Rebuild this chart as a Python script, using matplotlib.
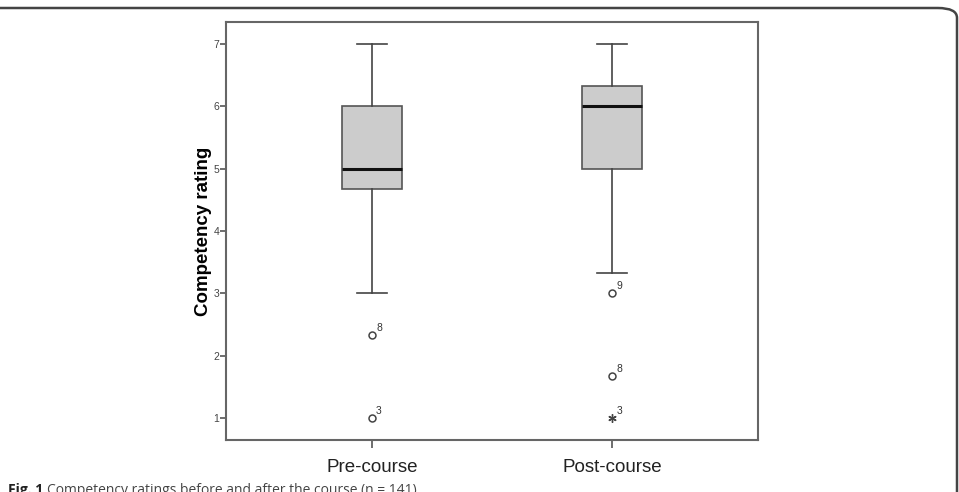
import matplotlib.pyplot as plt
from matplotlib.patches import FancyBboxPatch

plt.rcParams['font.family'] = ['Liberation Sans', 'DejaVu Sans']

# values
groups = ['Pre-course', 'Post-course']
whislo = [3.0, 3.33]
q1 = [4.67, 5.0]
med = [5.0, 6.0]
q3 = [6.0, 6.33]
whishi = [7.0, 7.0]
outliers = [[2.33, 1.0], [3.0, 1.67, 1.0]]
outlier_ids = [['8', '3'], ['9', '8', '3']]
outlier_kind = [['o', 'o'], ['o', 'o', '*']]
yticks = [1, 2, 3, 4, 5, 6, 7]

fig = plt.figure(figsize=(9.59, 4.92), dpi=100)
ax = fig.add_axes([226 / 959, 52 / 492, 532 / 959, 418 / 492])

stats = []
for i in range(len(groups)):
    stats.append(dict(med=med[i], q1=q1[i], q3=q3[i], whislo=whislo[i],
                      whishi=whishi[i], fliers=[], label=groups[i]))

pos = [1, 2]
ax.bxp(stats, positions=pos, widths=0.25, patch_artist=True, showfliers=False,
       boxprops=dict(facecolor='#cccccc', edgecolor='#555555', linewidth=1.2),
       medianprops=dict(color='#111111', linewidth=2.2),
       whiskerprops=dict(color='#444444', linewidth=1.2),
       capprops=dict(color='#444444', linewidth=1.2), capwidths=0.125)

for i, p in enumerate(pos):
    for v, lab, kind in zip(outliers[i], outlier_ids[i], outlier_kind[i]):
        if kind == 'o':
            ax.plot(p, v, 'o', mfc='white', mec='#444444', ms=5, mew=1.1)
        else:
            ax.plot(p, v, marker=(6, 2, 0), color='#444444', ms=6, mew=1.0)
        ax.annotate(lab, (p, v), xytext=(3, 3), textcoords='offset points',
                    fontsize=7.5, color='#333333')

ax.set_xlim(0.392, 2.608)
ax.set_ylim(0.65, 7.35)
ax.set_yticks(yticks)
ax.set_xticks(pos)
ax.set_xticklabels(groups, fontsize=13.5, color='#222222')
ax.tick_params(axis='y', labelsize=7.5, length=4, width=1.2, color='#555555',
               labelcolor='#444444', pad=1)
ax.tick_params(axis='x', length=6, width=1.2, color='#555555', pad=8)
for s in ax.spines.values():
    s.set_color('#666666')
    s.set_linewidth(1.5)
ax.set_ylabel('Competency rating', fontsize=13.5, fontweight='bold', labelpad=1)

# outer rounded frame of the figure panel
frame = FancyBboxPatch((-20 / 959, -40 / 492), 977 / 959, 524 / 492,
                       boxstyle='round,pad=0,rounding_size=0.02',
                       transform=fig.transFigure, fill=False,
                       edgecolor='#444444', linewidth=1.8, clip_on=False)
fig.add_artist(frame)

fig.text(8 / 959, -2 / 492, 'Fig. 1', fontsize=10, fontweight='bold',
         family=['Open Sans', 'DejaVu Sans'], color='#222222', va='baseline')
fig.text(47 / 959, -2 / 492, 'Competency ratings before and after the course (n = 141)',
         fontsize=10, family=['Open Sans', 'DejaVu Sans'], color='#444444', va='baseline')

fig.savefig('out.png', dpi=100)
